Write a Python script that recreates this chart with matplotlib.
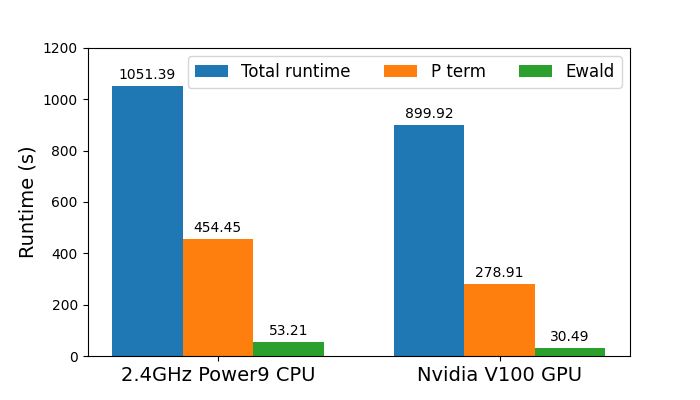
import matplotlib
matplotlib.use("Agg")
import matplotlib.pyplot as plt
import numpy as np

platforms = ["2.4GHz Power9 CPU", "Nvidia V100 GPU"]
total_runtime = [1051.39, 899.92]
p_term = [454.45, 278.91]
ewald = [53.21, 30.49]

x = np.arange(len(platforms))
width = 0.25

fig, ax = plt.subplots(figsize=(7, 4), dpi=100)
bars1 = ax.bar(x - width, total_runtime, width, label="Total runtime")
bars2 = ax.bar(x, p_term, width, label="P term")
bars3 = ax.bar(x + width, ewald, width, label="Ewald")

for bars in (bars1, bars2, bars3):
    for b in bars:
        h = b.get_height()
        ax.annotate("{:.2f}".format(h),
                    xy=(b.get_x() + b.get_width() / 2, h),
                    xytext=(0, 3), textcoords="offset points",
                    ha="center", va="bottom", fontsize=10)

ax.set_ylabel("Runtime (s)", fontsize=14)
ax.set_xticks(x)
ax.set_xticklabels(platforms, fontsize=14)
ax.set_ylim(0, 1200)
ax.legend(ncol=3, loc="upper right", fontsize=12)

plt.savefig("out.png", dpi=100)
plt.close("all")
